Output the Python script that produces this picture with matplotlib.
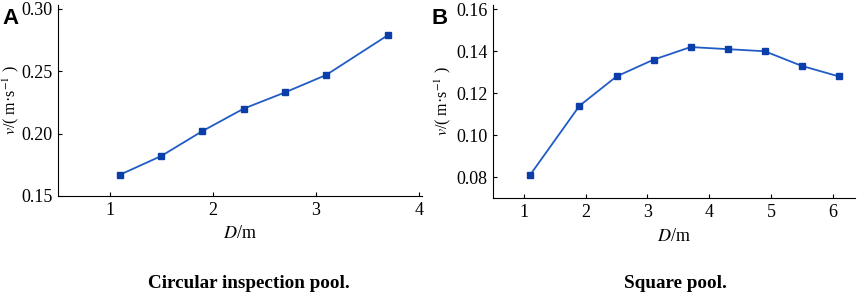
import numpy as np
import matplotlib
matplotlib.use('Agg')
import matplotlib.pyplot as plt

plt.rcParams['font.family'] = ['Liberation Serif', 'DejaVu Serif']
plt.rcParams['mathtext.fontset'] = 'stix'

# circular inspection pool
d_circ = [1.1, 1.5, 1.9, 2.3, 2.7, 3.1, 3.7]
v_circ = [0.167, 0.182, 0.202, 0.220, 0.233, 0.247, 0.279]
circ_yticks = [0.15, 0.20, 0.25, 0.30]
circ_xticks = [1, 2, 3, 4]

# square pool
d_sq = [1.1, 1.9, 2.5, 3.1, 3.7, 4.3, 4.9, 5.5, 6.1]
v_sq = [0.081, 0.114, 0.128, 0.136, 0.142, 0.141, 0.140, 0.133, 0.128]
sq_yticks = [0.08, 0.10, 0.12, 0.14, 0.16]
sq_xticks = [1, 2, 3, 4, 5, 6]

line_col = '#1f5cc4'
mark_col = '#0b3ea8'

fig = plt.figure(figsize=(8.58, 3.01), dpi=100)
axA = fig.add_axes([0.0676, 0.349, 0.4244, 0.634])
axB = fig.add_axes([0.5746, 0.342, 0.4219, 0.641])


def style(ax, xlim, ylim, xt, yt, fmt):
    ax.spines['top'].set_visible(False)
    ax.spines['right'].set_visible(False)
    ax.set_xlim(*xlim)
    ax.set_ylim(*ylim)
    ax.set_xticks(xt)
    ax.set_yticks(yt)
    ax.set_yticklabels([fmt % t for t in yt])
    ax.tick_params(direction='in', length=3, labelsize=13, pad=4)
    ax.set_xlabel('$D$/m', fontsize=13, labelpad=5)
    ax.set_ylabel('$v$/( m·s$^{-1}$ )', fontsize=11.5, va='center')


axA.plot(d_circ, v_circ, color=line_col, lw=1.3, marker='s', ms=5,
         mfc=mark_col, mec=mark_col)
style(axA, (0.5, 4.03), (0.15, 0.303), circ_xticks, circ_yticks, '%.2f')
axA.yaxis.set_label_coords(-0.13, 0.5)

axB.plot(d_sq, v_sq, color=line_col, lw=1.3, marker='s', ms=5,
         mfc=mark_col, mec=mark_col)
style(axB, (0.5, 6.36), (0.07, 0.162), sq_xticks, sq_yticks, '%.2f')
axB.yaxis.set_label_coords(-0.138, 0.5)

fig.text(0.003, 0.975, 'A', fontsize=16, fontweight='bold',
         family='Liberation Sans', va='top', ha='left')
fig.text(0.503, 0.975, 'B', fontsize=16, fontweight='bold',
         family='Liberation Sans', va='top', ha='left')

fig.text(249 / 858, 1 - 283 / 301, 'Circular inspection pool.', fontsize=13.8,
         fontweight='bold', ha='center', va='center')
fig.text(675 / 858, 1 - 283 / 301, 'Square pool.', fontsize=13.8,
         fontweight='bold', ha='center', va='center')

fig.savefig('out.png', dpi=100)
